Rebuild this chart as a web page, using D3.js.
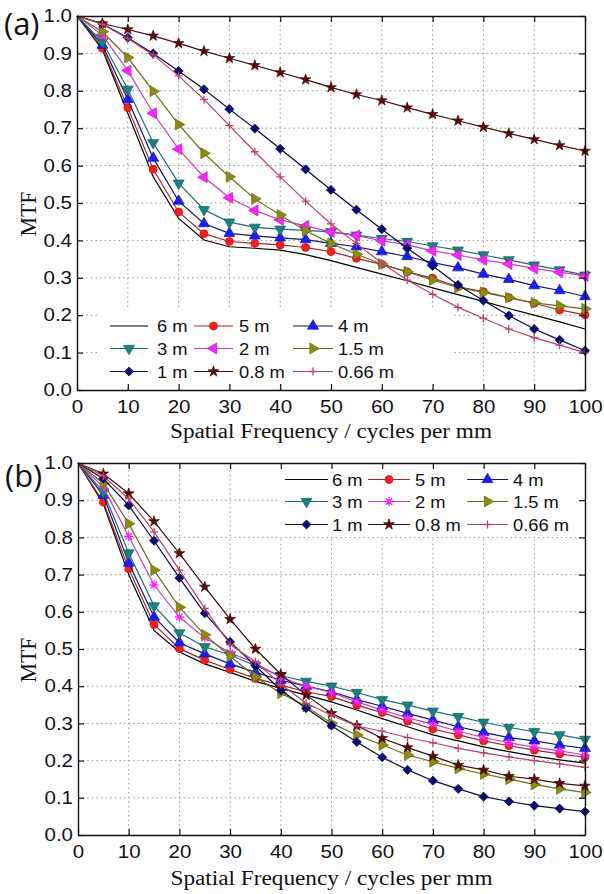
<!DOCTYPE html>
<html>
<head>
<meta charset="utf-8">
<script src="https://cdn.jsdelivr.net/npm/d3@7"></script>
<style>
  body { margin: 0; background: #fff; }
  svg { display: block; }
</style>
</head>
<body>
<div id="chart"></div>
<script>
// spatial frequency samples (cycles per mm)
const freq = [0, 5, 10, 15, 20, 25, 30, 35, 40, 45, 50, 55, 60, 65, 70, 75, 80, 85, 90, 95, 100];
const seriesNames = ["6 m", "5 m", "4 m", "3 m", "2 m", "1.5 m", "1 m", "0.8 m", "0.66 m"];
const xTicks = [0, 10, 20, 30, 40, 50, 60, 70, 80, 90, 100];
const yTicks = [0, 0.1, 0.2, 0.3, 0.4, 0.5, 0.6, 0.7, 0.8, 0.9, 1.0];

// panel (a)
const a6m   = [1.0, 0.910, 0.740, 0.570, 0.459, 0.401, 0.383, 0.379, 0.374, 0.362, 0.346, 0.328, 0.310, 0.292, 0.273, 0.255, 0.237, 0.218, 0.200, 0.182, 0.163];
const a5m   = [1.0, 0.914, 0.755, 0.590, 0.476, 0.418, 0.397, 0.392, 0.388, 0.381, 0.370, 0.352, 0.336, 0.316, 0.299, 0.276, 0.263, 0.247, 0.232, 0.214, 0.201];
const a4m   = [1.0, 0.922, 0.777, 0.620, 0.505, 0.445, 0.419, 0.412, 0.407, 0.402, 0.392, 0.383, 0.370, 0.357, 0.341, 0.327, 0.310, 0.296, 0.279, 0.266, 0.250];
const a3m   = [1.0, 0.931, 0.804, 0.661, 0.553, 0.482, 0.449, 0.435, 0.430, 0.427, 0.423, 0.414, 0.405, 0.397, 0.385, 0.374, 0.361, 0.348, 0.334, 0.321, 0.307];
const a2m   = [1.0, 0.949, 0.854, 0.740, 0.644, 0.569, 0.514, 0.480, 0.455, 0.439, 0.423, 0.413, 0.399, 0.388, 0.372, 0.361, 0.348, 0.337, 0.325, 0.315, 0.305];
const a1_5m = [1.0, 0.958, 0.889, 0.799, 0.710, 0.633, 0.570, 0.511, 0.468, 0.426, 0.392, 0.363, 0.337, 0.316, 0.294, 0.274, 0.261, 0.247, 0.233, 0.225, 0.217];
const a1m   = [1.0, 0.979, 0.942, 0.900, 0.853, 0.804, 0.751, 0.699, 0.645, 0.590, 0.535, 0.482, 0.430, 0.379, 0.332, 0.281, 0.239, 0.199, 0.163, 0.134, 0.105];
const a0_8m = [1.0, 0.980, 0.964, 0.947, 0.927, 0.906, 0.887, 0.868, 0.849, 0.830, 0.809, 0.790, 0.774, 0.755, 0.737, 0.720, 0.703, 0.686, 0.670, 0.654, 0.639];
const a0_66m= [1.0, 0.978, 0.940, 0.896, 0.840, 0.777, 0.707, 0.637, 0.570, 0.505, 0.444, 0.392, 0.339, 0.294, 0.256, 0.221, 0.192, 0.163, 0.140, 0.120, 0.100];

// panel (b)
const b6m   = [1.0, 0.890, 0.700, 0.550, 0.492, 0.460, 0.437, 0.413, 0.394, 0.376, 0.358, 0.336, 0.313, 0.291, 0.269, 0.253, 0.237, 0.224, 0.212, 0.202, 0.193];
const b5m   = [1.0, 0.895, 0.716, 0.566, 0.501, 0.470, 0.445, 0.421, 0.403, 0.385, 0.372, 0.349, 0.329, 0.306, 0.285, 0.269, 0.253, 0.240, 0.228, 0.218, 0.209];
const b4m   = [1.0, 0.913, 0.731, 0.586, 0.517, 0.487, 0.460, 0.437, 0.416, 0.400, 0.385, 0.364, 0.346, 0.327, 0.309, 0.291, 0.276, 0.262, 0.253, 0.242, 0.233];
const b3m   = [1.0, 0.922, 0.758, 0.616, 0.543, 0.506, 0.484, 0.455, 0.428, 0.413, 0.400, 0.383, 0.364, 0.349, 0.333, 0.318, 0.303, 0.289, 0.278, 0.269, 0.257];
const b2m   = [1.0, 0.935, 0.803, 0.672, 0.586, 0.530, 0.490, 0.462, 0.423, 0.400, 0.383, 0.358, 0.336, 0.315, 0.298, 0.279, 0.262, 0.248, 0.236, 0.226, 0.215];
const b1_5m = [1.0, 0.945, 0.837, 0.712, 0.612, 0.538, 0.481, 0.425, 0.381, 0.346, 0.300, 0.269, 0.242, 0.215, 0.197, 0.179, 0.164, 0.150, 0.136, 0.124, 0.114];
const b1m   = [1.0, 0.958, 0.886, 0.791, 0.691, 0.596, 0.519, 0.455, 0.389, 0.341, 0.294, 0.250, 0.209, 0.175, 0.146, 0.124, 0.103, 0.090, 0.079, 0.071, 0.063];
const b0_8m = [1.0, 0.971, 0.918, 0.843, 0.757, 0.667, 0.580, 0.500, 0.432, 0.376, 0.327, 0.294, 0.260, 0.235, 0.212, 0.188, 0.175, 0.158, 0.150, 0.139, 0.132];
const b0_66m= [1.0, 0.965, 0.904, 0.815, 0.712, 0.609, 0.512, 0.466, 0.405, 0.354, 0.322, 0.293, 0.279, 0.262, 0.248, 0.233, 0.221, 0.210, 0.200, 0.191, 0.182];

// line / marker colours per series
const lineColors   = ["#000000", "#a0282a", "#15156a", "#1d6e6e", "#c838c8", "#6a6a1c", "#0a0a3a", "#3c1212", "#b8406c"];
const markerColors = [null,      "#ff1a1a", "#1a1aff", "#178282", "#ff22ff", "#8c8c10", "#0a0a78", "#5c0808", "#c0406e"];
const markersA = ["none", "circle", "triUp", "triDown", "triLeft", "triRight", "diamond", "star", "plus"];
const markersB = ["none", "circle", "triUp", "triDown", "asterisk", "triRight", "diamond", "star", "plus"];

const W = 604, H = 894;
const svg = d3.select("#chart").append("svg")
  .attr("width", W).attr("height", H)
  .style("background", "#fff");

function markerPath(type) {
  switch (type) {
    case "circle":  return d3.symbol(d3.symbolCircle, 50)();
    case "triUp":
    case "triDown":
    case "triLeft":
    case "triRight": return d3.symbol(d3.symbolTriangle, 52)();
    case "diamond": return d3.symbol(d3.symbolSquare, 42)();
    case "star":    return d3.symbol(d3.symbolStar, 36)();
    case "plus":    return "M-4,0H4M0,-4V4";
    case "asterisk":return "M-4.5,0H4.5M0,-4.5V4.5M-3.2,-3.2L3.2,3.2M-3.2,3.2L3.2,-3.2";
  }
  return "";
}
function markerRotate(type) {
  return { triDown: 180, triLeft: -90, triRight: 90, diamond: 45 }[type] || 0;
}
function drawMarker(g, type, cx, cy, i) {
  if (type === "none") return;
  const open = (type === "plus" || type === "asterisk");
  g.append("path")
    .attr("d", markerPath(type))
    .attr("transform", `translate(${cx},${cy}) rotate(${markerRotate(type)})`)
    .attr("fill", open ? "none" : markerColors[i])
    .attr("stroke", open ? markerColors[i] : d3.color(markerColors[i]).darker(0.8))
    .attr("stroke-width", open ? 1.3 : 0.7);
}

// horizontally widen text about its anchor
function stretch(sel, k) {
  sel.each(function () {
    const t = d3.select(this);
    const x = +t.attr("x") || 0, y = +t.attr("y") || 0;
    t.attr("transform", `translate(${x},${y}) scale(${k},1) translate(${-x},${-y})`);
  });
}

function drawPanel(cfg) {
  const x = d3.scaleLinear().domain([0, 100]).range([cfg.left, cfg.right]);
  const y = d3.scaleLinear().domain([0, 1]).range([cfg.bottom, cfg.top]);
  const g = svg.append("g");

  // dotted grid
  g.append("g").selectAll("line").data(xTicks.slice(1, -1)).enter().append("line")
    .attr("x1", d => x(d)).attr("x2", d => x(d))
    .attr("y1", y(0)).attr("y2", y(1))
    .attr("stroke", "#9a9a9a").attr("stroke-width", 1).attr("stroke-dasharray", "1.6,3");
  g.append("g").selectAll("line").data(yTicks.slice(1, -1)).enter().append("line")
    .attr("x1", x(0)).attr("x2", x(100))
    .attr("y1", d => y(d)).attr("y2", d => y(d))
    .attr("stroke", "#9a9a9a").attr("stroke-width", 1).attr("stroke-dasharray", "1.6,3");

  // legend background hides grid beneath
  const lb = cfg.legendBox;
  g.append("rect").attr("x", lb[0]).attr("y", lb[1]).attr("width", lb[2]).attr("height", lb[3])
    .attr("fill", "#fff");

  // curves
  const line = d3.line().x((d, j) => x(freq[j])).y(d => y(d));
  cfg.data.forEach((vals, i) => {
    const sg = g.append("g");
    sg.append("path").datum(vals)
      .attr("d", line)
      .attr("fill", "none")
      .attr("stroke", lineColors[i])
      .attr("stroke-width", 1.2);
    if (cfg.markers[i] !== "none") {
      vals.forEach((v, j) => {
        if (j === 0) return;
        drawMarker(sg, cfg.markers[i], x(freq[j]), y(v), i);
      });
    }
  });

  // axes, ticks inside on all four sides
  const axB = g.append("g").attr("transform", `translate(0,${y(0)})`)
    .call(d3.axisBottom(x).tickValues(xTicks).tickSize(-6).tickSizeOuter(0).tickPadding(10));
  const axL = g.append("g").attr("transform", `translate(${x(0)},0)`)
    .call(d3.axisLeft(y).tickValues(yTicks).tickFormat(d3.format(".1f")).tickSize(-6).tickSizeOuter(0).tickPadding(5));
  g.append("g").attr("transform", `translate(0,${y(1)})`)
    .call(d3.axisTop(x).tickValues(xTicks).tickSize(-6).tickSizeOuter(0).tickFormat(""));
  g.append("g").attr("transform", `translate(${x(100)},0)`)
    .call(d3.axisRight(y).tickValues(yTicks).tickSize(-6).tickSizeOuter(0).tickFormat(""));
  g.selectAll(".domain").attr("stroke", "#111").attr("stroke-width", 1.4);
  g.selectAll(".tick line").attr("stroke", "#111").attr("stroke-width", 1.2);
  [axB, axL].forEach(ax => {
    ax.selectAll("text")
      .attr("font-family", "'Liberation Sans', Arial, sans-serif")
      .attr("font-size", 18).attr("fill", "#111");
    stretch(ax.selectAll("text"), 1.14);
  });

  // legend entries
  seriesNames.forEach((name, i) => {
    const r = Math.floor(i / 3), c = i % 3;
    const cy = cfg.legendRows[r];
    const [x1, x2, tx] = cfg.legendCols[c];
    g.append("line").attr("x1", x1).attr("x2", x2).attr("y1", cy).attr("y2", cy)
      .attr("stroke", lineColors[i]).attr("stroke-width", 1.2);
    drawMarker(g, cfg.markers[i], (x1 + x2) / 2, cy, i);
    const t = g.append("text").attr("x", tx).attr("y", cy).attr("dy", "0.36em")
      .attr("font-family", "'Liberation Sans', Arial, sans-serif")
      .attr("font-size", 17).attr("fill", "#111")
      .text(name);
    stretch(t, 1.08);
  });

  // titles
  g.append("text")
    .attr("x", (x(0) + x(100)) / 2).attr("y", cfg.titleY)
    .attr("text-anchor", "middle")
    .attr("font-family", "'Liberation Serif', 'Times New Roman', serif")
    .attr("font-size", 20).attr("fill", "#111")
    .attr("textLength", 322).attr("lengthAdjust", "spacingAndGlyphs")
    .text("Spatial Frequency / cycles per mm");
  g.append("text")
    .attr("transform", `translate(36,${cfg.mtfY}) rotate(-90)`)
    .attr("text-anchor", "middle")
    .attr("font-family", "'Liberation Serif', 'Times New Roman', serif")
    .attr("font-size", 23).attr("fill", "#111")
    .attr("textLength", 45).attr("lengthAdjust", "spacingAndGlyphs")
    .text("MTF");
  g.append("text")
    .attr("x", cfg.labelX).attr("y", cfg.labelY)
    .attr("font-family", "'Open Sans', 'Noto Sans', sans-serif")
    .attr("font-size", 31).attr("fill", "#111")
    .text(cfg.label);
}

drawPanel({
  left: 77, right: 585, top: 16, bottom: 390,
  data: [a6m, a5m, a4m, a3m, a2m, a1_5m, a1m, a0_8m, a0_66m],
  markers: markersA,
  legendBox: [97, 309, 354, 78],
  legendRows: [326, 348.5, 371.5],
  legendCols: [[110, 148, 157], [194, 233, 239], [293, 333, 338]],
  titleY: 438, mtfY: 214,
  label: "(a)", labelX: 4, labelY: 35
});

drawPanel({
  left: 78, right: 585, top: 463, bottom: 835,
  data: [b6m, b5m, b4m, b3m, b2m, b1_5m, b1m, b0_8m, b0_66m],
  markers: markersB,
  legendBox: [280, 465, 303, 72],
  legendRows: [479.5, 501.5, 524.5],
  legendCols: [[285, 328, 332], [368, 410, 415], [467, 508, 513]],
  titleY: 885, mtfY: 660,
  label: "(b)", labelX: 5, labelY: 487
});
</script>
</body>
</html>
